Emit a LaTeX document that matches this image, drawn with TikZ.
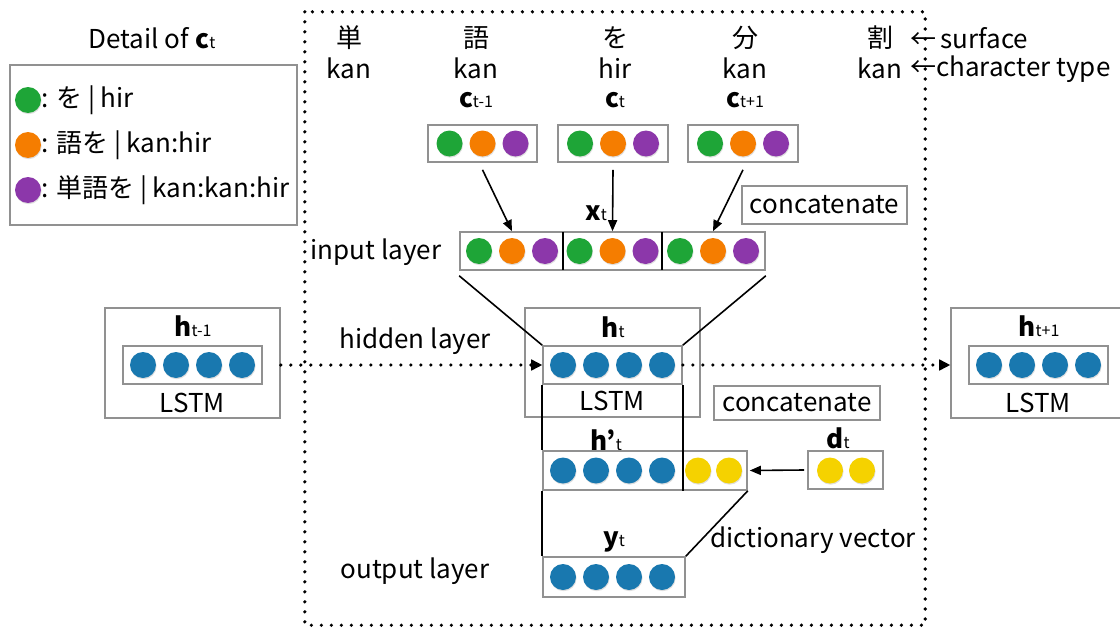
\documentclass[tikz,border=0pt]{standalone}
\usepackage{fontspec}
\setmainfont{Noto Sans CJK JP}
\usetikzlibrary{arrows.meta,shadows}
\definecolor{cg}{RGB}{30,165,55}
\definecolor{co}{RGB}{245,125,0}
\definecolor{cp}{RGB}{140,55,170}
\definecolor{cb}{RGB}{25,120,175}
\definecolor{cy}{RGB}{245,210,0}
\definecolor{boxgray}{RGB}{145,145,145}
\newcommand{\vsub}[2]{\textbf{#1}{\fontsize{16}{16}\selectfont #2}}
\begin{document}
\begin{tikzpicture}[x=1pt,y=-1pt,
  every node/.style={font=\fontsize{26}{30}\selectfont},
  box/.style={draw=boxgray,line width=1.6pt,rectangle,inner sep=0pt},
  dot/.style={circle,inner sep=0pt,minimum size=26pt,draw=none,
    drop shadow={shadow xshift=0.6pt,shadow yshift=-1.2pt,opacity=0.25}},
  dotline/.style={line width=3.6pt,dash pattern=on 0pt off 10pt,line cap=round},
  link/.style={line width=1.6pt,black},
  arr/.style={link,-{Triangle[length=11pt,width=9pt]}},
  lbl/.style={inner sep=0pt}]
\useasboundingbox (0,0) rectangle (1120,629);

% dotted frame
\node[draw=none,minimum width=620pt,minimum height=613pt,inner sep=0pt] (frame) at (615,318.5) {};
\draw[dotline] (frame.north west) rectangle (frame.south east);

% legend
\node[lbl] (dtitle) at (152,38) {Detail of \vsub{c}{t}};
\node[box,minimum width=287pt,minimum height=160pt] (legend) at (153.5,145) {};
\node[dot,fill=cg] (lg) at (28,100) {};
\node[dot,fill=co] (lo) at (28,145) {};
\node[dot,fill=cp] (lp) at (28,190) {};
\node[lbl,anchor=west] (lgt) at (41,100) {: を | hir};
\node[lbl,anchor=west] (lot) at (41,145) {: 語を | kan:hir};
\node[lbl,anchor=west] (lpt) at (41,190) {: 単語を | kan:kan:hir};

% characters
\node[lbl] (s1) at (349,38) {単};
\node[lbl] (s2) at (476,38) {語};
\node[lbl] (s3) at (615,38) {を};
\node[lbl] (s4) at (745,38) {分};
\node[lbl] (s5) at (880,38) {割};
\node[lbl] (t1) at (349,68) {kan};
\node[lbl] (t2) at (476,68) {kan};
\node[lbl] (t3) at (615,68) {hir};
\node[lbl] (t4) at (745,68) {kan};
\node[lbl] (t5) at (880,68) {kan};
\node[lbl,anchor=west] (surf) at (910,38) {←\,surface};
\node[lbl,anchor=west] (ctype) at (910,69) {←character type};

% c vectors
\node[lbl] (lcm) at (476,100) {\vsub{c}{t-1}};
\node[lbl] (lc0) at (615,100) {\vsub{c}{t}};
\node[lbl] (lcp) at (745,100) {\vsub{c}{t+1}};
\node[box,minimum width=109pt,minimum height=37pt] (cm1) at (482.5,143.5) {};
\node[box,minimum width=110pt,minimum height=37pt] (c0) at (613,143.5) {};
\node[box,minimum width=110pt,minimum height=37pt] (cp1) at (743,143.5) {};
\foreach \b/\cx in {cm1/482.5,c0/613,cp1/743}{
  \node[dot,fill=cg] (\b g) at (\cx-33,143.5) {};
  \node[dot,fill=co] (\b o) at (\cx,143.5) {};
  \node[dot,fill=cp] (\b p) at (\cx+33,143.5) {};
}

% concatenate 1
\node[box,minimum width=165pt,minimum height=38pt] (cat1) at (824.5,205) {concatenate};

% input layer
\node[lbl] (lx) at (596,213) {\vsub{x}{t}};
\node[lbl] (linput) at (376,252) {input layer};
\node[box,minimum width=305pt,minimum height=38pt] (input) at (612.5,251) {};
\draw[link] (563,232) -- (563,270);
\draw[link] (662,232) -- (662,270);
\foreach \b/\cx in {ia/512,ib/612.5,ic/713}{
  \node[dot,fill=cg] (\b1) at (\cx-33,251) {};
  \node[dot,fill=co] (\b2) at (\cx,251) {};
  \node[dot,fill=cp] (\b3) at (\cx+33,251) {};
}
\draw[arr] ([yshift=-7pt]cm1.south) -- (ia2 |- input.north);
\draw[arr] ([yshift=-7pt]c0.south) -- (ib2 |- input.north);
\draw[arr] ([yshift=-7pt]cp1.south) -- (ic2 |- input.north);

% hidden layer
\node[lbl] (lhidden) at (415,341) {hidden layer};
\node[box,minimum width=175pt,minimum height=109pt] (lstm) at (612.5,362.5) {};
\node[lbl] (lh) at (613,327) {\vsub{h}{t}};
\node[lbl] (lstmt) at (612.5,401) {LSTM};
\node[box,minimum width=139pt,minimum height=38pt] (h) at (612.5,365) {};
\foreach \i/\cx in {1/563,2/596,3/629,4/662}{
  \node[dot,fill=cb] (h\i) at (\cx,365) {};
}
\draw[link] ([yshift=-5pt]input.south west) -- (h.north west);
\draw[link] ([yshift=-5pt]input.south east) -- (h.north east);

% previous LSTM
\node[box,minimum width=175pt,minimum height=110pt] (lstmm) at (192.5,363) {};
\node[lbl] (lhm) at (193,326) {\vsub{h}{t-1}};
\node[lbl] (lstmmt) at (192.5,403) {LSTM};
\node[box,minimum width=139pt,minimum height=38pt] (hm) at (192.5,365) {};
\foreach \i/\cx in {1/143,2/176,3/209,4/242}{
  \node[dot,fill=cb] (hm\i) at (\cx,365) {};
}

% next LSTM
\node[box,minimum width=175pt,minimum height=110pt] (lstmp) at (1038.5,363) {};
\node[lbl] (lhp) at (1039,326) {\vsub{h}{t+1}};
\node[lbl] (lstmpt) at (1038.5,403) {LSTM};
\node[box,minimum width=139pt,minimum height=38pt] (hp) at (1038.5,365) {};
\foreach \i/\cx in {1/989,2/1022,3/1055,4/1088}{
  \node[dot,fill=cb] (hp\i) at (\cx,365) {};
}

% recurrent dotted arrows
\draw[dotline] (lstmm.east |- hm.east) -- ([xshift=-10pt]h.west);
\draw[-{Triangle[length=11pt,width=11pt]},line width=1.6pt] ([xshift=-11pt]h.west) -- (h.west);
\draw[dotline] (h.east) -- ([xshift=-10pt]lstmp.west |- hp.west);
\draw[-{Triangle[length=11pt,width=11pt]},line width=1.6pt] ([xshift=-11pt]lstmp.west |- hp.west) -- (lstmp.west |- hp.west);

% concatenate 2 and h'
\node[box,minimum width=166pt,minimum height=34pt] (cat2) at (797,403) {concatenate};
\node[lbl] (lhq) at (606,440) {\vsub{h’}{t}};
\node[box,minimum width=204pt,minimum height=39pt] (hq) at (645,470.5) {};
\foreach \i/\cx in {1/563,2/596,3/629,4/662}{
  \node[dot,fill=cb] (hq\i) at (\cx,470.5) {};
}
\node[dot,fill=cy] (hq5) at (698,470.5) {};
\node[dot,fill=cy] (hq6) at (729,470.5) {};
\draw[link] (h.south west) -- (h.south west |- hq.north);
\draw[link] (h.south east) -- (h.south east |- hq.south);

% dictionary vector
\node[lbl] (ld) at (838,438) {\vsub{d}{t}};
\node[box,minimum width=75pt,minimum height=38pt] (d) at (845.5,470) {};
\node[dot,fill=cy] (d1) at (830,470.5) {};
\node[dot,fill=cy] (d2) at (862,470.5) {};
\draw[arr] ([xshift=-3pt]d.west) -- ([xshift=2pt]hq.east);

% output layer
\node[lbl] (ly) at (614,542) {\vsub{y}{t}};
\node[lbl] (loutput) at (415,571) {output layer};
\node[lbl] (ldict) at (813,540) {dictionary vector};
\node[box,minimum width=142pt,minimum height=40pt] (yv) at (614,577) {};
\foreach \i/\cx in {1/563,2/596,3/629,4/662}{
  \node[dot,fill=cb] (y\i) at (\cx,577) {};
}
\draw[link] (hq.south west) -- (yv.north west);
\draw[link] (hq.south east) -- (yv.north east);
\end{tikzpicture}
\end{document}
